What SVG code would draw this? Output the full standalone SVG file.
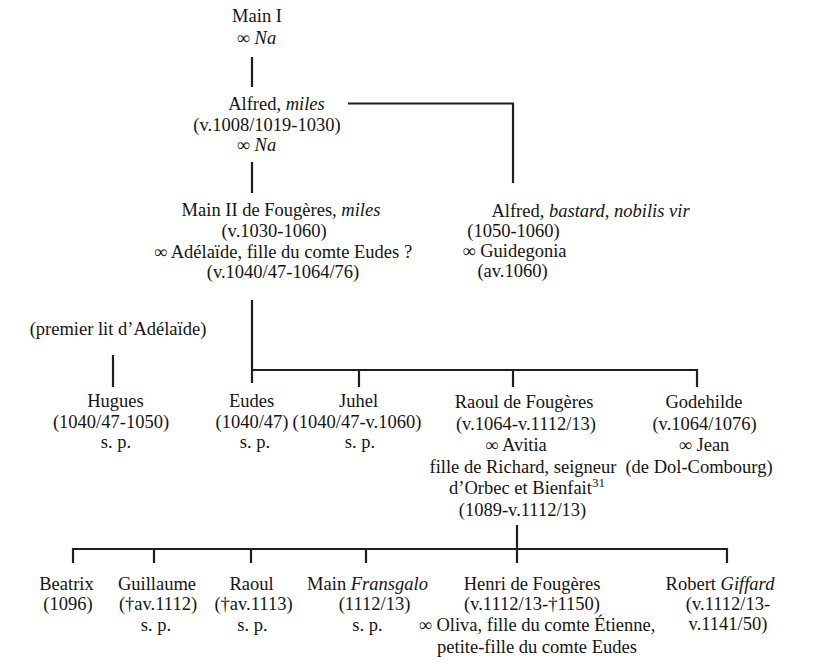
<svg xmlns="http://www.w3.org/2000/svg" width="813" height="664" viewBox="0 0 813 664">
<style>
text{font-family:"Liberation Serif","Times New Roman",serif;font-size:18.5px;fill:#141414;text-anchor:middle}
.i{font-style:italic}
.c line{stroke:#1e1e1e;stroke-width:2.2;fill:none}
</style>
<rect width="813" height="664" fill="#ffffff"/>
<g class="c" id="connectors">
<line x1="252" y1="57" x2="252" y2="87"/>
<line x1="252" y1="162" x2="252" y2="193"/>
<polyline points="348,103.5 513,103.5 513,183" style="stroke:#1e1e1e;stroke-width:2.2;fill:none"/>
<line x1="252" y1="300" x2="252" y2="383"/>
<line x1="251" y1="370" x2="698" y2="370"/>
<line x1="359" y1="370" x2="359" y2="387"/>
<line x1="513" y1="370" x2="513" y2="387"/>
<line x1="697" y1="369" x2="697" y2="387"/>
<line x1="113" y1="355" x2="113" y2="387"/>
<line x1="517" y1="525" x2="517" y2="563"/>
<line x1="72" y1="549" x2="728" y2="549"/>
<line x1="73" y1="548" x2="73" y2="563"/>
<line x1="154" y1="549" x2="154" y2="563"/>
<line x1="251" y1="549" x2="251" y2="563"/>
<line x1="366" y1="549" x2="366" y2="563"/>
<line x1="727" y1="548" x2="727" y2="563"/>
</g>
<g id="main1">
<text x="257" y="22">Main I</text>
<text x="256.5" y="44">∞ <tspan class="i">Na</tspan></text>
</g>
<g id="alfred">
<text x="276.5" y="110">Alfred, <tspan class="i">miles</tspan></text>
<text x="267" y="131">(v.1008/1019-1030)</text>
<text x="256.5" y="151">∞ <tspan class="i">Na</tspan></text>
</g>
<g id="main2">
<text x="281" y="216">Main II de Fougères, <tspan class="i">miles</tspan></text>
<text x="274" y="237">(v.1030-1060)</text>
<text x="283" y="258">∞ Adélaïde, fille du comte Eudes ?</text>
<text x="283" y="278">(v.1040/47-1064/76)</text>
</g>
<g id="alfred-bastard">
<text x="590.5" y="217">Alfred, <tspan class="i">bastard, nobilis vir</tspan></text>
<text x="513.5" y="237">(1050-1060)</text>
<text x="514.5" y="257">∞ Guidegonia</text>
<text x="512.5" y="277">(av.1060)</text>
</g>
<g id="premier-lit">
<text x="118" y="335">(premier lit d’Adélaïde)</text>
</g>
<g id="hugues">
<text x="115.5" y="407">Hugues</text>
<text x="111" y="428">(1040/47-1050)</text>
<text x="116" y="448">s. p.</text>
</g>
<g id="eudes">
<text x="251.5" y="407">Eudes</text>
<text x="252" y="428">(1040/47)</text>
<text x="255" y="448">s. p.</text>
</g>
<g id="juhel">
<text x="358.5" y="407">Juhel</text>
<text x="357" y="428">(1040/47-v.1060)</text>
<text x="360" y="448">s. p.</text>
</g>
<g id="raoul">
<text x="524" y="408">Raoul de Fougères</text>
<text x="526" y="429.5">(v.1064-v.1112/13)</text>
<text x="516" y="451">∞ Avitia</text>
<text x="523" y="472.5">fille de Richard, seigneur</text>
<text x="527" y="494">d’Orbec et Bienfait<tspan font-size="13" dy="-7">31</tspan></text>
<text x="522.5" y="515.5">(1089-v.1112/13)</text>
</g>
<g id="godehilde">
<text x="704" y="408">Godehilde</text>
<text x="704.5" y="429.5">(v.1064/1076)</text>
<text x="704" y="451">∞ Jean</text>
<text x="699" y="472.5">(de Dol-Combourg)</text>
</g>
<g id="beatrix">
<text x="66.5" y="590">Beatrix</text>
<text x="68" y="610">(1096)</text>
</g>
<g id="guillaume">
<text x="157" y="590">Guillaume</text>
<text x="158" y="610">(†av.1112)</text>
<text x="156" y="631">s. p.</text>
</g>
<g id="raoul2">
<text x="251.5" y="590">Raoul</text>
<text x="253.5" y="610">(†av.1113)</text>
<text x="252.5" y="631">s. p.</text>
</g>
<g id="main-fransgalo">
<text x="367.5" y="590">Main <tspan class="i">Fransgalo</tspan></text>
<text x="374.5" y="610">(1112/13)</text>
<text x="367.5" y="631">s. p.</text>
</g>
<g id="henri">
<text x="532" y="590">Henri de Fougères</text>
<text x="532" y="610">(v.1112/13-†1150)</text>
<text x="537" y="631">∞ Oliva, fille du comte Étienne,</text>
<text x="537" y="653">petite-fille du comte Eudes</text>
</g>
<g id="robert">
<text x="720" y="590">Robert <tspan class="i">Giffard</tspan></text>
<text x="728" y="610">(v.1112/13-</text>
<text x="728" y="630">v.1141/50)</text>
</g>
</svg>
